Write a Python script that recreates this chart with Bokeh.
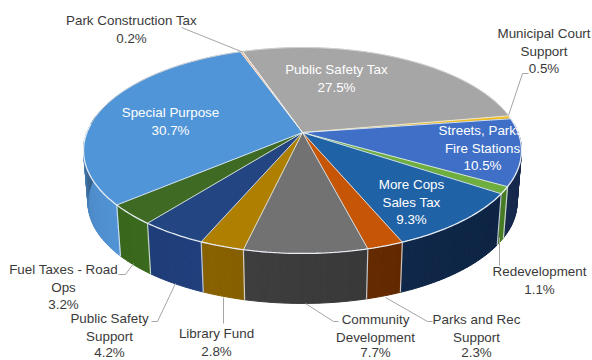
import numpy as np
from bokeh.plotting import figure
from bokeh.core.properties import value
from bokeh.embed import file_html
from bokeh.resources import INLINE

categories = ["Public Safety Tax", "Municipal Court Support", "Streets, Parks, Fire Stations",
              "Redevelopment", "More Cops Sales Tax", "Parks and Rec Support",
              "Community Development", "Library Fund", "Public Safety Support",
              "Fuel Taxes - Road Ops", "Special Purpose", "Park Construction Tax"]
shares = [27.5, 0.5, 10.5, 1.1, 9.3, 2.3, 7.7, 2.8, 4.2, 3.2, 30.7, 0.2]
top_colors = ["#A6A6A6", "#F2BE1E", "#3F6FC6", "#6DAE3F", "#1F62A6", "#C65505",
              "#727272", "#AE7F00", "#234683", "#3F6A24", "#5095D8", "#F4B183"]
side_colors = ["#6E6E6E", "#A07F10", "#1A2F58", "#4F8A28", "#10294C", "#662B00",
               "#3A3A3A", "#7C5900", "#1E3A72", "#38651C", "#5090D0", "#A87850"]

label_lines = [["Public Safety Tax", "27.5%"], ["Municipal Court", "Support", "0.5%"],
               ["Streets, Parks,", "Fire Stations", "10.5%"], ["Redevelopment", "1.1%"],
               ["More Cops", "Sales Tax", "9.3%"], ["Parks and Rec", "Support", "2.3%"],
               ["Community", "Development", "7.7%"], ["Library Fund", "2.8%"],
               ["Public Safety", "Support", "4.2%"], ["Fuel Taxes - Road", "Ops", "3.2%"],
               ["Special Purpose", "30.7%"], ["Park Construction Tax", "0.2%"]]
label_x = [336, 543.5, 482, 539, 411, 476, 375, 216, 109, 63, 170, 131]
label_y = [69, 33, 130, 271, 184, 319, 319, 333, 318, 269, 112, 20]
label_white = [True, False, True, False, True, False, False, False, False, False, True, False]
leaders = [([528, 522, 508], [73, 73, 115]),
           ([181, 242], [27, 51.5]),
           ([118, 125, 133], [274, 274, 263]),
           ([151, 157, 175], [321, 321, 283]),
           ([223, 223], [323, 297]),
           ([338, 333, 305], [321, 321, 303]),
           ([432, 427, 385], [321, 321, 297]),
           ([499, 499], [265, 237])]

START = -18.9
CX, CY, A, B, K = 302.0, 132.0, 215.6, 99.8, 0.175
SCALE_BOTTOM, CY_BOTTOM = 0.98, 184.4
RIM = "#E8EEF4"
LINE_STEP = 17.7
LOWEST_TEXT = 352


def rim(theta, bottom=False):
    t = np.radians(theta)
    u, v = np.sin(t), -np.cos(t)
    w = 1 - K * v
    s, cy = (SCALE_BOTTOM, CY_BOTTOM) if bottom else (1.0, CY)
    return CX + s * A * u / w, cy + s * B * v / w


def shade(hex_color, f):
    c = np.array([int(hex_color[i:i + 2], 16) for i in (1, 3, 5)], float) * f
    c = np.clip(c, 0, 255).astype(int)
    return "#%02x%02x%02x" % tuple(c)


p = figure(width=592, height=360, x_range=(0, 592), y_range=(360, 0), toolbar_location=None,
           output_backend="svg", min_border=0, margin=(0, 0, 0, 0), outline_line_color=None,
           background_fill_color="white", border_fill_color="white")
p.axis.visible = False
p.grid.visible = False

edges = START + np.cumsum([0] + shares) * 3.6

# side wall, drawn as thin facets so the shading can change around the rim
sx, sy, sc = [], [], []
for i in range(len(shares)):
    a0, a1 = edges[i], edges[i + 1]
    n = max(2, int((a1 - a0) / 1.5))
    th = np.linspace(a0, a1, n + 1)
    for j in range(n):
        tt = th[j:j + 2]
        mid = (tt[0] + tt[1]) / 2
        if not (85 < mid % 360 < 280):
            continue
        x0, y0 = rim(tt)
        x1, y1 = rim(tt, True)
        sx.append(list(x0) + list(x1[::-1]))
        sy.append(list(y0) + list(y1[::-1]))
        f = np.interp(mid % 360, [85, 130, 170, 200, 240, 255, 268, 280], [.85, .9, 1.0, 1.1, 1.0, .95, .7, .6])
        sc.append(shade(side_colors[i], f))
p.patches(sx, sy, fill_color=sc, line_color=sc, line_width=1.0)

# dividers on the wall
for a in edges:
    if 90 < a % 360 < 272:
        x0, y0 = rim(a)
        x1, y1 = rim(a, True)
        p.line([x0, x1], [y0, y1], line_color=RIM, line_width=1.2, line_alpha=0.8)

# top face
for i in range(len(shares)):
    th = np.linspace(edges[i], edges[i + 1], max(3, int(shares[i] * 3.6) + 2))
    x, y = rim(th)
    p.patch([CX] + list(x), [CY] + list(y), fill_color=top_colors[i], line_color=top_colors[i], line_width=0.5)
for a in edges:
    x, y = rim(a)
    p.line([CX, x], [CY, y], line_color=RIM, line_width=1.0, line_alpha=0.85)
th = np.linspace(80, 275, 200)
x, y = rim(th)
p.line(x, y, line_color=RIM, line_width=1.3)
th = np.linspace(275, 440, 200)
x, y = rim(th)
p.line(x, y, line_color="#D0D0D0", line_width=1.0)

# leaders
for lx, ly in leaders:
    p.line(lx, ly, line_color="#A6A6A6", line_width=1)

# labels
tx, ty, tt, tc = [], [], [], []
for lines, x, y, white in zip(label_lines, label_x, label_y, label_white):
    for k, line in enumerate(lines):
        tx.append(x)
        ty.append(min(y + k * LINE_STEP, LOWEST_TEXT))
        tt.append(line)
        tc.append("#FFFFFF" if white else "#3A3A3A")
p.text(tx, ty, text=tt, text_color=tc, text_align="center", text_baseline="middle",
       text_font=value("Liberation Sans"), text_font_size="13.4px")

open("out.html", "w").write(file_html(p, INLINE))
